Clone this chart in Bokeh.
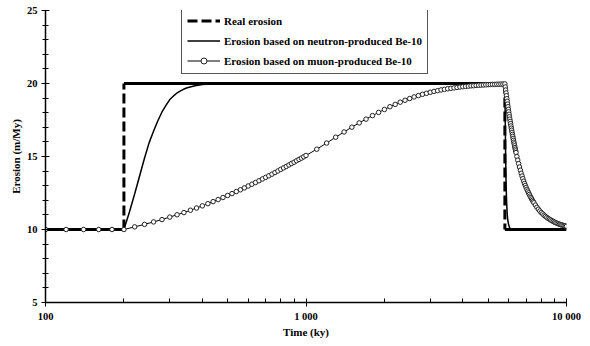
from bokeh.plotting import figure
from bokeh.models import FixedTicker, Legend, LegendItem, Range1d
from bokeh.embed import file_html
from bokeh.resources import INLINE

# ---------------- data ----------------
real_t = [100, 200, 200, 5800, 5800, 10000]
real_e = [10, 10, 20, 20, 10, 10]

neutron_t = [100, 200, 210, 220, 230, 240, 250, 260, 270, 280, 290, 300, 310, 320, 330,
             340, 350, 375, 400, 450, 500, 5800, 5810, 5820, 5830, 5840, 5860, 5880, 5900,
             5925, 5950, 6000, 6050, 6100, 6200, 6300, 10000]
neutron_e = [10, 10, 11.2, 12.45, 13.7, 14.9, 15.95, 16.75, 17.45, 18.05, 18.5, 18.9, 19.15,
             19.35, 19.5, 19.62, 19.71, 19.85, 19.93, 19.98, 20, 20, 18.5, 17.3, 16.1, 15.0,
             13.4, 12.3, 11.6, 11.0, 10.65, 10.3, 10.12, 10.05, 10.01, 10.0, 10.0]

# muon curve, sampled every 20 ky up to 1000, every 100 ky to 5800, then the decay
muon_t_a = list(range(100, 1001, 20))
muon_e_a = [10, 10, 10, 10, 10, 10,
            10.18, 10.35, 10.52, 10.68, 10.85, 11.01, 11.16, 11.32, 11.47, 11.62,
            11.77, 11.91, 12.05, 12.19, 12.33, 12.46, 12.60, 12.72, 12.85, 12.98,
            13.10, 13.22, 13.34, 13.46, 13.57, 13.68, 13.79, 13.90, 14.01, 14.12,
            14.22, 14.32, 14.42, 14.52, 14.61, 14.71, 14.80, 14.89, 14.98, 15.07]
muon_t_b = list(range(1100, 5801, 100))
muon_e_b = [15.50, 15.92, 16.32, 16.68, 17.01, 17.30, 17.56, 17.80, 18.02, 18.22,
            18.41, 18.57, 18.72, 18.85, 18.97, 19.08, 19.17, 19.26, 19.33, 19.40,
            19.46, 19.51, 19.56, 19.60, 19.64, 19.67, 19.70, 19.73, 19.76, 19.78,
            19.80, 19.82, 19.84, 19.85, 19.87, 19.88, 19.89, 19.90, 19.91, 19.92,
            19.93, 19.94, 19.94, 19.95, 19.95, 19.96, 19.96, 19.97]
muon_t_c = list(range(5820, 6401, 20))
muon_e_c = [19.76, 19.55, 19.35, 19.16, 18.96, 18.78, 18.59, 18.41, 18.23, 18.06,
            17.89, 17.72, 17.56, 17.40, 17.25, 17.09, 16.94, 16.80, 16.65, 16.51,
            16.38, 16.24, 16.11, 15.98, 15.86, 15.73, 15.61, 15.50, 15.38, 15.27]
muon_t_d = list(range(6450, 7501, 50))
muon_e_d = [15.00, 14.75, 14.51, 14.28, 14.06, 13.85, 13.66, 13.48, 13.31, 13.15,
            13.01, 12.88, 12.75, 12.63, 12.51, 12.40, 12.29, 12.19, 12.09, 12.00,
            11.91, 11.83]
muon_t_e = list(range(7600, 10001, 100))
muon_e_e = [11.67, 11.52, 11.39, 11.27, 11.16, 11.07, 10.98, 10.90, 10.83, 10.76,
            10.70, 10.65, 10.60, 10.55, 10.50, 10.46, 10.43, 10.39, 10.36, 10.33,
            10.31, 10.28, 10.26, 10.24, 10.22]

muon_t = muon_t_a + muon_t_b + muon_t_c + muon_t_d + muon_t_e
muon_e = muon_e_a + muon_e_b + muon_e_c + muon_e_d + muon_e_e
assert len(muon_t) == len(muon_e)

x_ticks = [100, 1000, 10000]
x_tick_labels = ["100", "1 000", "10 000"]
x_minor = [200, 300, 400, 500, 600, 700, 800, 900,
           2000, 3000, 4000, 5000, 6000, 7000, 8000, 9000]
y_ticks = [5, 10, 15, 20, 25]
y_minor = [6, 7, 8, 9, 11, 12, 13, 14, 16, 17, 18, 19, 21, 22, 23, 24]

series_names = ["Real erosion",
                "Erosion based on neutron-produced Be-10",
                "Erosion based on muon-produced Be-10"]

FONT = "Liberation Serif"

# ---------------- figure ----------------
p = figure(width=590, height=346, x_axis_type="log",
           x_range=Range1d(100, 10000), y_range=Range1d(5, 25),
           output_backend="svg", toolbar_location=None,
           min_border_left=45, min_border_right=24, min_border_top=10,
           min_border_bottom=44)
p.outline_line_color = None
p.grid.visible = False
p.background_fill_color = "white"
p.border_fill_color = "white"

# real erosion: each segment drawn on its own (plateaus look solid, steps dashed,
# as in the original spreadsheet rendering)
seg = list(zip(real_t[:-1], real_e[:-1], real_t[1:], real_e[1:]))
flat = [s for s in seg if s[1] == s[3]]
step = [s for s in seg if s[0] == s[2]]
p.segment(x0=[s[0] for s in flat], y0=[s[1] for s in flat],
          x1=[s[2] for s in flat], y1=[s[3] for s in flat],
          line_color="black", line_width=3)
r_real = p.segment(x0=[s[0] for s in step], y0=[s[1] for s in step],
                   x1=[s[2] for s in step], y1=[s[3] for s in step],
                   line_color="black", line_width=3, line_dash="10 4")
r_neut = p.line(neutron_t, neutron_e, line_color="black", line_width=1.5)
r_muon_l = p.line(muon_t, muon_e, line_color="black", line_width=1)
r_muon_m = p.scatter(muon_t, muon_e, marker="circle", size=4.5, line_color="#222222",
                     line_width=1, fill_color="white")

# axes
xa = p.xaxis[0]
xa.ticker = FixedTicker(ticks=x_ticks, minor_ticks=x_minor)
xa.major_label_overrides = {t: l for t, l in zip(x_ticks, x_tick_labels)}
xa.axis_label = "Time (ky)"
ya = p.yaxis[0]
ya.ticker = FixedTicker(ticks=y_ticks, minor_ticks=y_minor)
ya.axis_label = "Erosion (m/My)"

for ax in (xa, ya):
    ax.axis_line_color = "black"
    ax.axis_line_width = 1.5
    ax.major_tick_line_color = "black"
    ax.minor_tick_line_color = "black"
    ax.major_tick_line_width = 1
    ax.minor_tick_line_width = 1
    ax.major_label_text_font = FONT
    ax.major_label_text_font_style = "bold"
    ax.major_label_text_font_size = "10.5px"
    ax.major_label_text_color = "black"
    ax.axis_label_text_font = FONT
    ax.axis_label_text_font_style = "bold"
    ax.axis_label_text_font_size = "11px"
    ax.axis_label_text_color = "black"
    ax.major_label_standoff = 4

xa.major_tick_in = 4
xa.major_tick_out = 4
xa.minor_tick_in = 4
xa.minor_tick_out = 0
xa.axis_label_standoff = 1
ya.major_tick_in = 4
ya.major_tick_out = 4
ya.minor_tick_in = 3
ya.minor_tick_out = 3
ya.axis_label_standoff = 2

legend = Legend(items=[
    LegendItem(label=series_names[0], renderers=[r_real]),
    LegendItem(label=series_names[1], renderers=[r_neut]),
    LegendItem(label=series_names[2], renderers=[r_muon_l, r_muon_m]),
], location=(136, 228))
legend.label_text_font = FONT
legend.label_text_font_style = "bold"
legend.label_text_font_size = "11px"
legend.label_text_color = "black"
legend.border_line_color = "#555555"
legend.border_line_width = 1
legend.border_line_alpha = 1
legend.background_fill_color = "white"
legend.background_fill_alpha = 1
legend.padding = 5
legend.spacing = 5
legend.glyph_width = 33
legend.glyph_height = 15
legend.label_height = 15
legend.label_standoff = 4
legend.margin = 0
p.add_layout(legend)

open("out.html", "w").write(file_html(p, INLINE))
